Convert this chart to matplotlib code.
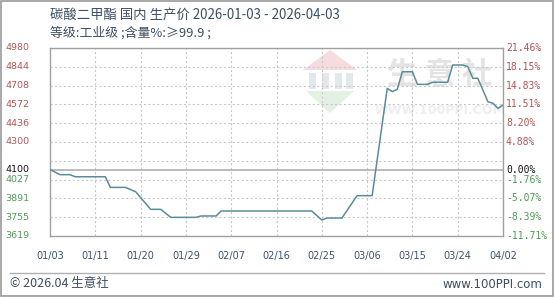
import matplotlib
matplotlib.use("Agg")
import matplotlib.pyplot as plt
import matplotlib.transforms as mtransforms
from matplotlib.patches import Rectangle, Polygon
import pandas as pd
import numpy as np

plt.rcParams['font.family'] = ['Noto Sans CJK SC', 'DejaVu Sans']

# ---- data ----
dates = ["2026-01-03", "2026-01-05", "2026-01-07", "2026-01-08", "2026-01-14",
         "2026-01-15", "2026-01-18", "2026-01-20", "2026-01-23", "2026-01-25",
         "2026-01-27", "2026-02-01", "2026-02-02", "2026-02-05", "2026-02-06",
         "2026-02-24", "2026-02-26", "2026-02-27", "2026-03-02", "2026-03-05",
         "2026-03-08", "2026-03-11", "2026-03-12", "2026-03-13", "2026-03-14",
         "2026-03-16", "2026-03-17", "2026-03-19", "2026-03-20", "2026-03-23",
         "2026-03-24", "2026-03-26", "2026-03-27", "2026-03-28", "2026-03-29",
         "2026-03-31", "2026-04-01", "2026-04-02", "2026-04-03"]
prices = [4100, 4063, 4063, 4048, 4048,
          3971, 3971, 3940, 3812, 3812,
          3754, 3754, 3764, 3764, 3800,
          3800, 3735, 3749, 3749, 3911,
          3911, 4688, 4664, 4681, 4808,
          4808, 4717, 4717, 4732, 4732,
          4857, 4857, 4845, 4761, 4761,
          4591, 4580, 4543, 4567]
base_price = 4100
left_ticks = [4980, 4844, 4708, 4572, 4436, 4300, 4100, 4027, 3891, 3755, 3619]
right_labels = ["21.46%", "18.15%", "14.83%", "11.51%", "8.20%", "4.88%",
                "0.00%", "-1.76%", "-5.07%", "-8.39%", "-11.71%"]
x_labels = ["01/03", "01/11", "01/20", "01/29", "02/07", "02/16", "02/25",
            "03/06", "03/15", "03/24", "04/02"]
title_line1 = "碳酸二甲酯 国内 生产价 2026-01-03 - 2026-04-03"
title_line2 = "等级:工业级 ;含量%:≥99.9 ;"
footer_left = "© 2026.04 生意社"
footer_right = "www.100PPI.com"

# ---- figure ----
W, H = 554, 297
fig = plt.figure(figsize=(W / 100, H / 100), dpi=100)
fig.patch.set_facecolor("white")

def fx(px):
    return px / W

def fy(py):
    return 1 - py / H

ax_l, ax_r, ax_t, ax_b = 50, 503, 48, 236
ax = fig.add_axes([fx(ax_l), fy(ax_b), fx(ax_r) - fx(ax_l), fy(ax_t) - fy(ax_b)])
ax.set_facecolor("white")

d = pd.to_datetime(dates)
start, end = pd.Timestamp("2026-01-03"), pd.Timestamp("2026-04-03")
ax.set_xlim(start, end)
ax.set_ylim(3619, 4980)

# watermark (faint logo), positions in axes fraction
def axx(px):
    return (px - ax_l) / (ax_r - ax_l)

def axy(py):
    return 1 - (py - ax_t) / (ax_b - ax_t)

wm = ax.transAxes
ax.add_patch(Polygon([[axx(303), axy(70)], [axx(330), axy(50)], [axx(357), axy(70)]],
                     closed=True, transform=wm, facecolor="#f6dcdc",
                     edgecolor="none", zorder=0))
for xx in [309, 322, 335, 346]:
    ax.add_patch(Rectangle((axx(xx), axy(89)), 7 / 453, 16 / 188, transform=wm,
                           facecolor="#e4e8ec", edgecolor="none", zorder=0))
ax.add_patch(Polygon([[axx(306), axy(91)], [axx(354), axy(91)], [axx(330), axy(113)]],
                     closed=True, transform=wm, facecolor="#e2f1e2",
                     edgecolor="none", zorder=0))
ax.text(axx(440), axy(75), "生 意 社", transform=wm, fontsize=22, color="#e4e4e4",
        ha="center", va="center", zorder=0, fontweight="bold")
ax.text(axx(440), axy(110), "WWW.100PPI.COM", transform=wm, fontsize=9,
        color="#eeeeee", ha="center", va="center", zorder=0,
        family=["DejaVu Sans"], fontweight="bold")

# grid
grid_vals = [4980 - 136 * k for k in range(1, 10)]
for gv in grid_vals:
    ax.axhline(gv, color="#c9c9c9", lw=0.8, ls=(0, (2, 2)), zorder=1)
tick_pos = [start + pd.Timedelta(days=9 * k) for k in range(11)]
for tp in tick_pos[1:-1]:
    ax.axvline(tp, color="#c9c9c9", lw=0.8, ls=(0, (2, 2)), zorder=1)
ax.axhline(base_price, color="#a8a8a8", lw=1.1, zorder=1)

ax.plot(d, prices, color="#5a8c99", lw=1.1, zorder=3)

for s in ax.spines.values():
    s.set_color("#a0a0a0")
    s.set_linewidth(1.0)

ax.set_xticks(tick_pos)
ax.set_xticklabels(x_labels, family=["DejaVu Sans"], fontsize=7, color="#3a5272")
ax.tick_params(axis="x", length=0, pad=11)
ax.set_yticks([])

# y labels as text
tr = mtransforms.blended_transform_factory(fig.transFigure, ax.transData)
for v, rl in zip(left_ticks, right_labels):
    if v > base_price:
        c = "#b35454"
    elif v < base_price:
        c = "#4f9a55"
    else:
        c = "#111111"
    ax.text(fx(5), v, str(v), transform=tr, ha="left", va="center",
            fontsize=6.8, color=c, family=["DejaVu Sans"], clip_on=False)
    ax.text(fx(506), v, rl, transform=tr, ha="left", va="center",
            fontsize=7, color=c, family=["DejaVu Sans Mono"], clip_on=False)

# titles
fig.text(fx(50), fy(15), title_line1, ha="left", va="center", fontsize=9.6,
         color="#3d4f63")
fig.text(fx(50), fy(33), title_line2, ha="left", va="center", fontsize=9.3,
         color="#3d4f63")

# footer
fig.add_artist(plt.Line2D([fx(10), fx(544)], [fy(273), fy(273)],
                          transform=fig.transFigure, color="#b0b0b0", lw=1))
fig.text(fx(10), fy(284), footer_left, ha="left", va="center", fontsize=9,
         color="#3d4f63")
fig.text(fx(542), fy(284), footer_right, ha="right", va="center", fontsize=8.5,
         color="#3d4f63", family=["DejaVu Sans"])

# outer border
fig.add_artist(Rectangle((0.001, 0.002), 0.997, 0.995, transform=fig.transFigure,
                         fill=False, edgecolor="#9a9a9a", lw=1.2))

fig.savefig("out.png", dpi=100, facecolor="white")
